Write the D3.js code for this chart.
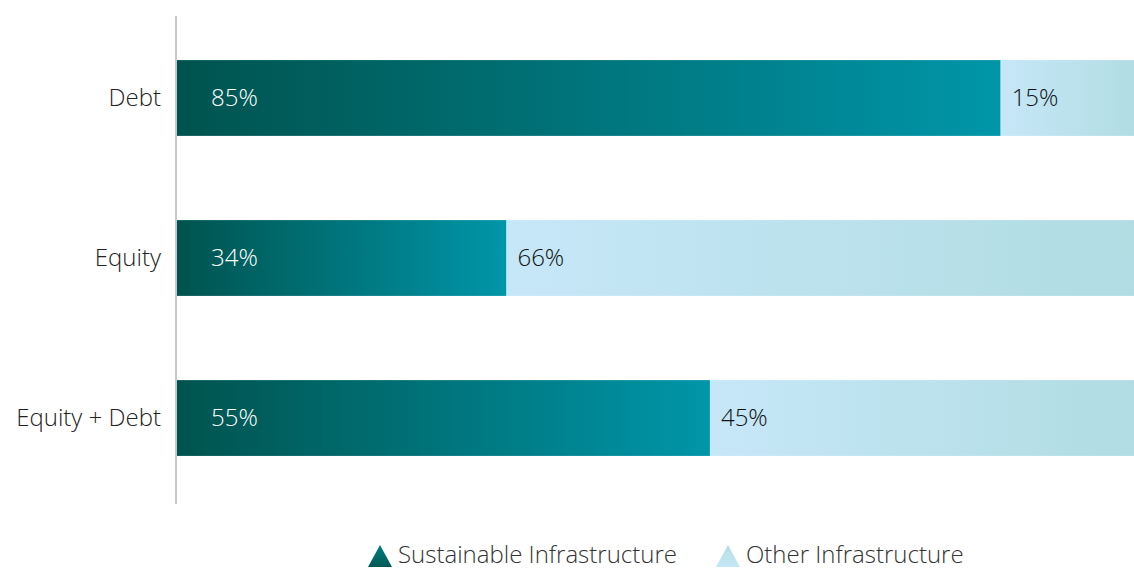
<!DOCTYPE html>
<html>
<head>
<meta charset="utf-8">
<script src="https://cdn.jsdelivr.net/npm/d3@7"></script>
<style>
  html, body { margin: 0; padding: 0; background: #fff; }
  svg { display: block; font-family: "Open Sans", Lato, sans-serif; font-weight: 300; }
</style>
</head>
<body>
<svg id="chart" width="1134" height="571"></svg>
<script>
// Share of infrastructure fundraising by instrument
const categories = ["Debt", "Equity", "Equity + Debt"];
const sustainable = [85, 34, 55];
const other = [15, 66, 45];
const seriesNames = ["Sustainable Infrastructure", "Other Infrastructure"];

const svg = d3.select("#chart");
const left = 177;
const fontSize = 24;

const x = d3.scaleLinear().domain([0, 100]).range([left, left + 969]);
const y = d3.scaleBand().domain(categories).range([18, 498]).paddingInner(0.5263).paddingOuter(0.263);

const defs = svg.append("defs");
function gradient(id, vertical, from, to) {
  const g = defs.append("linearGradient").attr("id", id)
    .attr("x1", "0").attr("y1", "0")
    .attr("x2", vertical ? "0" : "1").attr("y2", vertical ? "1" : "0");
  g.append("stop").attr("offset", "0%").attr("stop-color", from);
  g.append("stop").attr("offset", "100%").attr("stop-color", to);
}
gradient("gradSus", false, "#00534e", "#0096a9");
gradient("gradOth", false, "#c6e7f8", "#b0dce2");
gradient("gradSusV", true, "#00807f", "#005a58");
gradient("gradOthV", true, "#b3dde6", "#c6e8f7");

const rows = categories.map((c, i) => ({ cat: c, s: sustainable[i], o: other[i] }));

// sustainable segments
svg.selectAll("rect.sus").data(rows).join("rect")
  .attr("class", "sus")
  .attr("x", x(0))
  .attr("y", d => y(d.cat))
  .attr("width", d => x(d.s) - x(0))
  .attr("height", y.bandwidth())
  .attr("fill", "url(#gradSus)");

// other segments
svg.selectAll("rect.oth").data(rows).join("rect")
  .attr("class", "oth")
  .attr("x", d => x(d.s))
  .attr("y", d => y(d.cat))
  .attr("width", d => x(d.s + d.o) - x(d.s))
  .attr("height", y.bandwidth())
  .attr("fill", "url(#gradOth)");

// value labels
svg.selectAll("text.lblS").data(rows).join("text")
  .attr("class", "lblS")
  .attr("x", x(0) + 34)
  .attr("y", d => y(d.cat) + y.bandwidth() / 2)
  .attr("dy", "0.35em")
  .attr("fill", "#ffffff")
  .attr("font-size", fontSize)
  .text(d => d.s + "%");

svg.selectAll("text.lblO").data(rows).join("text")
  .attr("class", "lblO")
  .attr("x", d => x(d.s) + 11)
  .attr("y", d => y(d.cat) + y.bandwidth() / 2)
  .attr("dy", "0.35em")
  .attr("fill", "#111")
  .attr("font-size", fontSize)
  .text(d => d.o + "%");

// category axis
const axis = svg.append("g").attr("transform", `translate(${left - 1},0)`)
  .call(d3.axisLeft(y).tickSize(0).tickPadding(15));
axis.select(".domain").remove();
axis.selectAll("text")
  .attr("font-size", fontSize).attr("fill", "#222")
  .attr("font-family", "'Open Sans', Lato, sans-serif").attr("font-weight", 300);
svg.append("line")
  .attr("x1", left - 1).attr("x2", left - 1)
  .attr("y1", 16).attr("y2", 504)
  .attr("stroke", "#c3c8cc").attr("stroke-width", 2);

// legend
const legend = svg.append("g");
const items = [
  { name: seriesNames[0], fill: "url(#gradSusV)", x: 368 },
  { name: seriesNames[1], fill: "url(#gradOthV)", x: 716 }
];
items.forEach(it => {
  legend.append("path")
    .attr("d", `M${it.x},567 L${it.x + 12},545 L${it.x + 24},567 Z`)
    .attr("fill", it.fill);
  legend.append("text")
    .attr("x", it.x + 30)
    .attr("y", 563)
    .attr("font-size", fontSize)
    .attr("fill", "#333")
    .text(it.name);
});
</script>
</body>
</html>
